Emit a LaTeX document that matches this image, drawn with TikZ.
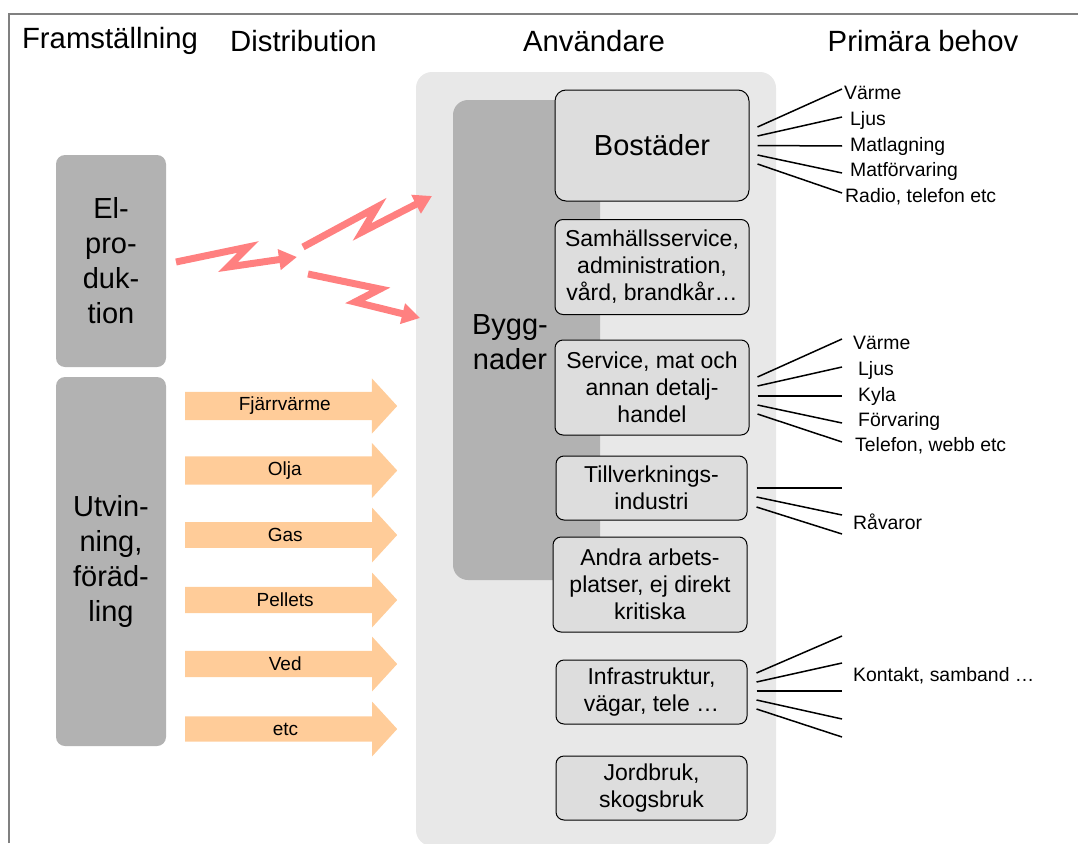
\documentclass[tikz,border=0pt]{standalone}
\usepackage{fontspec}
\setmainfont{Liberation Sans}
\usetikzlibrary{positioning,shapes.arrows,arrows.meta}
\definecolor{darkbox}{RGB}{178,178,178}
\definecolor{panelgray}{RGB}{232,232,232}
\definecolor{subgray}{RGB}{221,221,221}
\definecolor{fuelorange}{RGB}{255,204,153}
\definecolor{boltred}{RGB}{255,128,128}
\definecolor{framegray}{RGB}{128,128,128}

\begin{document}
\begin{tikzpicture}
[x=1pt,y=-1pt,
head/.style={font=\fontsize{29.3}{35}\selectfont},
big/.style={align=center,font=\fontsize{29}{35}\selectfont},
gbox/.style={fill=darkbox,rounded corners=9pt,big,inner sep=0pt},
sub/.style={draw,line width=1pt,fill=subgray,rounded corners=8pt,align=center,
  font=\fontsize{23}{27}\selectfont,minimum width=194pt,minimum height=95pt,inner sep=0pt},
fuelarrow/.style={single arrow,fill=fuelorange,minimum height=212pt,minimum width=55pt,
  single arrow head extend=13.5pt,single arrow tip angle=95,inner xsep=0pt,inner ysep=5pt,
  anchor=tail,font=\fontsize{19}{22}\selectfont},
bolt/.style={draw=boltred,line width=7pt,line join=miter,-{Triangle[length=18pt,width=20pt]}},
fan/.style={line width=1.5pt},
need/.style={anchor=west,inner sep=0pt,text height=14pt,text depth=4pt,font=\fontsize{19.4}{23}\selectfont}]
\useasboundingbox (0,0) rectangle (1078,843);
\draw[framegray,line width=2.5pt] (9,843) -- (9,14) -- (1078,14);
\node[head](hfram) at (110,41){Framställning};
\node[head](hdist) at (303.5,41){Distribution};
\node[head](hanv) at (594,41){Användare};
\node[head](hprim) at (923,41){Primära behov};
\node[fill=panelgray,rounded corners=16pt,minimum width=360pt,minimum height=774pt](users) at (596,459){};
\node[gbox,rounded corners=15pt,minimum width=147pt,minimum height=480pt](bygg) at (526.5,340){};
\node[big](byggtxt) at (510,342){Bygg-\\nader};
\node[gbox,minimum width=110pt,minimum height=212pt](elprod) at (111,261){El-\\pro-\\duk-\\tion};
\node[gbox,minimum width=110pt,minimum height=369pt](utvin) at (111,561.5){Utvin-\\ning,\\föräd-\\ling};
\node[sub,minimum height=111pt,rounded corners=11pt,font=\fontsize{29}{35}\selectfont](bost) at (652,145.5){Bostäder};
\node[sub](samh) at (652,267){Samhällsservice,\\administration,\\vård, brandkår…};
\node[sub](serv) at (652,387.5){Service, mat och\\annan detalj-\\handel};
\node[sub,minimum width=191pt,minimum height=64pt](tillv) at (651.5,488){Tillverknings-\\industri};
\node[sub](andra) at (650,584.5){Andra arbets-\\platser, ej direkt\\kritiska};
\node[sub,minimum width=191pt,minimum height=64pt](infra) at (651.5,692){Infrastruktur,\\vägar, tele …};
\node[sub,minimum width=191pt,minimum height=64pt](jord) at (651.5,788){Jordbruk,\\skogsbruk};
\foreach \y/\n/\t in {406/fjarr/Fjärrvärme,470.5/olja/Olja,535/gas/Gas,600/pellets/Pellets,664/ved/Ved,729/etc/etc}
  \node[fuelarrow](\n) at (185,\y){\t};
\coordinate (b1s) at (176,262); \coordinate (b1t) at (297,257);
\coordinate (b2s) at (303,247); \coordinate (b2t) at (432,196);
\coordinate (b3s) at (308,274); \coordinate (b3t) at (420,318);
\draw[bolt] (b1s) -- ++(72,-15) -- ++(-20,20) -- (b1t);
\draw[bolt] (b2s) -- ++(74,-40) -- ++(-15,25) -- (b2t);
\draw[bolt] (b3s) -- ++(72,15) -- ++(-25,13) -- (b3t);
\foreach \i/\dy/\ey in {1/18.5/89,2/9.5/117,3/0/146,4/-9.5/173,5/-18.5/193}{
  \coordinate (bo\i) at (842,\ey);
  \draw[fan] ([xshift=8pt,yshift=\dy pt]bost.east) -- (bo\i);}
\foreach \i/\dy/\ey in {1/10.5/339,2/1.5/367,3/-8.5/396,4/-17.5/423,5/-26.5/442}{
  \coordinate (se\i) at (842,\ey);
  \draw[fan] ([xshift=8pt,yshift=\dy pt]serv.east) -- (se\i);}
\foreach \i/\dy/\ey in {1/0/488,2/-9/515,3/-19/534}{
  \coordinate (ti\i) at (842,\ey);
  \draw[fan] ([xshift=9pt,yshift=\dy pt]tillv.east) -- (ti\i);}
\foreach \i/\dy/\ey in {1/19/636,2/10/663,3/1/691,4/-8/719,5/-17/737}{
  \coordinate (in\i) at (842,\ey);
  \draw[fan] ([xshift=9pt,yshift=\dy pt]infra.east) -- (in\i);}
\node[need](bvarme) at (844,94){Värme};
\node[need](bljus) at (850,120){Ljus};
\node[need](bmat) at (850,146){Matlagning};
\node[need](bforv) at (850,171){Matförvaring};
\node[need](bradio) at (845,197){Radio, telefon etc};
\node[need](svarme) at (853,344){Värme};
\node[need](sljus) at (858,370){Ljus};
\node[need](skyla) at (858,396){Kyla};
\node[need](sforv) at (858,421){Förvaring};
\node[need](stel) at (855,446){Telefon, webb etc};
\node[need](ravara) at (853,524){Råvaror};
\node[need](kontakt) at (853,676){Kontakt, samband …};
\end{tikzpicture}
\end{document}
